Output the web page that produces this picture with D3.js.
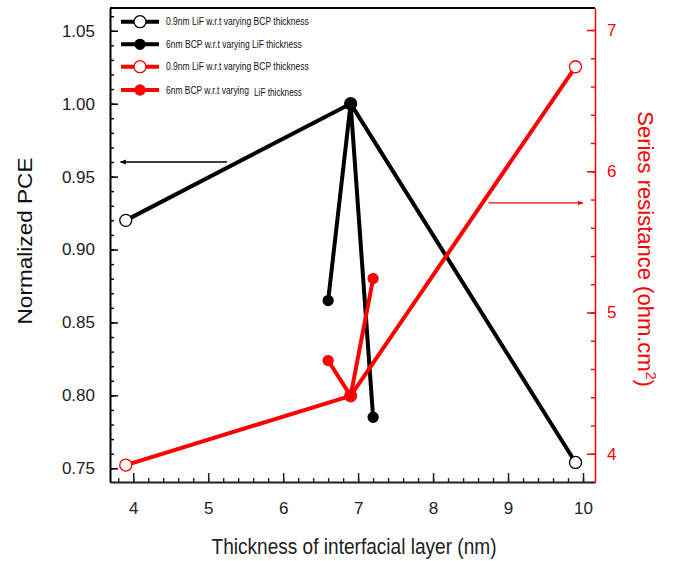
<!DOCTYPE html>
<html>
<head>
<meta charset="utf-8">
<script src="https://cdn.jsdelivr.net/npm/d3@7"></script>
<style>
  body { margin: 0; background: #fff; }
  text { font-family: "Liberation Sans", Arial, sans-serif; }
</style>
</head>
<body>
<script>
// data
const xBCP = [3.9, 6.9, 9.9]      // 0.9nm LiF, varying BCP thickness
const pceBCP = [0.92, 1.00, 0.754]
const rsBCP = [3.92, 4.41, 6.74]

const xLiF = [6.6, 6.9, 7.2]      // 6nm BCP, varying LiF thickness
const pceLiF = [0.865, 1.00, 0.785]
const rsLiF = [4.66, 4.41, 5.24]

const xTicks = [4, 5, 6, 7, 8, 9, 10]
const pceTicks = [0.75, 0.80, 0.85, 0.90, 0.95, 1.00, 1.05]
const rsTicks = [4, 5, 6, 7]

const legendLabels = [
    '0.9nm LiF w.r.t varying BCP thickness',
    '6nm BCP w.r.t varying LiF thickness',
    '0.9nm LiF w.r.t varying BCP thickness',
    '6nm BCP w.r.t varying LiF thickness'
]

const w = 673
const h = 561
const plotLeft = 110, plotRight = 595, plotTop = 8, plotBottom = 482

const svg = d3.select('body').append('svg')
    .attr('width', w)
    .attr('height', h)

const x = d3.scaleLinear().domain([3.69, 10.16]).range([plotLeft, plotRight])
const yL = d3.scaleLinear().domain([0.7406, 1.0656]).range([plotBottom, plotTop])
const yR = d3.scaleLinear().domain([3.80, 7.156]).range([plotBottom, plotTop])

const red = '#ff0000'

// frame top line
svg.append('line')
    .attr('x1', plotLeft).attr('x2', plotRight)
    .attr('y1', plotTop).attr('y2', plotTop)
    .attr('stroke', '#000').attr('stroke-width', 2)

// minor ticks
const minor = (lo, hi, step) => d3.range(Math.round(lo / step), Math.round(hi / step) + 1).map(i => +(i * step).toFixed(4))

svg.append('g')
    .attr('transform', `translate(0,${plotBottom})`)
    .call(d3.axisBottom(x).tickValues(minor(3.8, 10.0, 0.2)).tickSize(-4).tickFormat('').tickSizeOuter(0))
    .call(g => g.select('.domain').remove())
    .selectAll('line').attr('stroke', '#222').attr('stroke-width', 1.4)

svg.append('g')
    .attr('transform', `translate(${plotLeft},0)`)
    .call(d3.axisLeft(yL).tickValues(minor(0.75, 1.06, 0.01)).tickSize(-4).tickFormat('').tickSizeOuter(0))
    .call(g => g.select('.domain').remove())
    .selectAll('line').attr('stroke', '#000').attr('stroke-width', 1.4)

svg.append('g')
    .attr('transform', `translate(${plotRight},0)`)
    .call(d3.axisRight(yR).tickValues(minor(3.8, 7.1, 0.2)).tickSize(-4).tickFormat('').tickSizeOuter(0))
    .call(g => g.select('.domain').remove())
    .selectAll('line').attr('stroke', red).attr('stroke-width', 1.4)

// main axes
const xAxis = svg.append('g')
    .attr('transform', `translate(0,${plotBottom})`)
    .call(d3.axisBottom(x).tickValues(xTicks).tickSize(-9).tickSizeOuter(0).tickPadding(20).tickFormat(d3.format('d')))
xAxis.select('.domain').attr('stroke', '#222').attr('stroke-width', 2)
xAxis.selectAll('line').attr('stroke', '#222').attr('stroke-width', 1.5)
xAxis.selectAll('text').attr('font-size', 17).attr('fill', '#222')
    .style('font-family', '"Liberation Sans", Arial, sans-serif')

const yAxisL = svg.append('g')
    .attr('transform', `translate(${plotLeft},0)`)
    .call(d3.axisLeft(yL).tickValues(pceTicks).tickSize(-8).tickSizeOuter(0).tickPadding(15).tickFormat(d3.format('.2f')))
yAxisL.select('.domain').attr('stroke', '#000').attr('stroke-width', 2)
yAxisL.selectAll('line').attr('stroke', '#000').attr('stroke-width', 1.5)
yAxisL.selectAll('text').attr('font-size', 17).attr('fill', '#222')
    .style('font-family', '"Liberation Sans", Arial, sans-serif')

const yAxisR = svg.append('g')
    .attr('transform', `translate(${plotRight},0)`)
    .call(d3.axisRight(yR).tickValues(rsTicks).tickSize(-8).tickSizeOuter(0).tickPadding(12).tickFormat(d3.format('d')))
yAxisR.select('.domain').attr('stroke', red).attr('stroke-width', 1.5)
yAxisR.selectAll('line').attr('stroke', red).attr('stroke-width', 1.5)
yAxisR.selectAll('text').attr('font-size', 17).attr('fill', red)
    .style('font-family', '"Liberation Sans", Arial, sans-serif')

// axis titles
svg.append('text')
    .attr('x', 354).attr('y', 554)
    .attr('text-anchor', 'middle')
    .attr('font-size', 22)
    .attr('fill', '#222')
    .attr('textLength', 285).attr('lengthAdjust', 'spacingAndGlyphs')
    .text('Thickness of interfacial layer (nm)')

svg.append('text')
    .attr('transform', 'translate(32,241) rotate(-90)')
    .attr('text-anchor', 'middle')
    .attr('font-size', 21)
    .attr('fill', '#111')
    .attr('textLength', 167).attr('lengthAdjust', 'spacingAndGlyphs')
    .text('Normalized PCE')

const rTitle = svg.append('text')
    .attr('transform', 'translate(638,249) rotate(90)')
    .attr('text-anchor', 'middle')
    .attr('font-size', 22)
    .attr('fill', red)
rTitle.append('tspan').text('Series resistance (ohm.cm')
rTitle.append('tspan').attr('dy', -8).attr('font-size', 14).text('2')
rTitle.append('tspan').attr('dy', 8).text(')')

// arrows
const defs = svg.append('defs')
const marker = (id, color) => defs.append('marker')
    .attr('id', id)
    .attr('viewBox', '0 0 10 10')
    .attr('refX', 9).attr('refY', 5)
    .attr('markerWidth', 6).attr('markerHeight', 6)
    .attr('markerUnits', 'userSpaceOnUse')
    .attr('orient', 'auto')
    .append('path').attr('d', 'M0,1 L10,5 L0,9 Z').attr('fill', color)
marker('arrowBlack', '#000')
marker('arrowRed', red)

svg.append('line')
    .attr('x1', x(5.25)).attr('x2', x(3.83))
    .attr('y1', yL(0.960)).attr('y2', yL(0.960))
    .attr('stroke', '#000').attr('stroke-width', 1.3)
    .attr('marker-end', 'url(#arrowBlack)')

svg.append('line')
    .attr('x1', x(8.74)).attr('x2', x(10.0))
    .attr('y1', yR(5.776)).attr('y2', yR(5.776))
    .attr('stroke', red).attr('stroke-width', 1.3)
    .attr('marker-end', 'url(#arrowRed)')

// series
const drawSeries = (xs, ys, yScale, color, open) => {
    const pts = xs.map((d, i) => [d, ys[i]])
    const line = d3.line().x(d => x(d[0])).y(d => yScale(d[1]))
    svg.append('path')
        .datum(pts)
        .attr('d', line)
        .attr('fill', 'none')
        .attr('stroke', color)
        .attr('stroke-width', 4)
        .attr('stroke-linejoin', 'round')
    svg.append('g').selectAll('circle')
        .data(pts)
        .enter()
        .append('circle')
        .attr('cx', d => x(d[0]))
        .attr('cy', d => yScale(d[1]))
        .attr('r', open ? 6 : 5)
        .attr('fill', open ? '#fff' : color)
        .attr('stroke', color)
        .attr('stroke-width', 1.3)
}

drawSeries(xBCP, pceBCP, yL, '#000', true)
drawSeries(xLiF, pceLiF, yL, '#000', false)
drawSeries(xBCP, rsBCP, yR, red, true)
drawSeries(xLiF, rsLiF, yR, red, false)

// legend
const legendY = [21.7, 44.3, 66.7, 90]
const legendColors = ['#000', '#000', red, red]
const legendOpen = [true, false, true, false]
const legendWidths = [143, 136, 143, 136]

// condensed text: squeeze horizontally to the width seen in the figure
const squeezedText = (parent, tx, ty, str, width) => {
    const g = parent.append('g')
    const t = g.append('text')
        .attr('font-size', 11).attr('fill', '#111')
        .text(str)
    const k = width / t.node().getComputedTextLength()
    g.attr('transform', `translate(${tx},${ty}) scale(${k},1)`)
}

const legend = svg.append('g').attr('class', 'legend')
legendLabels.forEach((label, i) => {
    const g = legend.append('g').attr('transform', `translate(0,${legendY[i]})`)
    g.append('line')
        .attr('x1', 121).attr('x2', 159)
        .attr('stroke', legendColors[i]).attr('stroke-width', 4)
    g.append('circle')
        .attr('cx', 140).attr('r', legendOpen[i] ? 6 : 5)
        .attr('fill', legendOpen[i] ? '#fff' : legendColors[i])
        .attr('stroke', legendColors[i]).attr('stroke-width', 1.3)
    if (i === 3) {
        // the figure sets "LiF thickness" slightly lower, as a separate run
        squeezedText(g, 166, 3.5, '6nm BCP w.r.t varying', 83)
        squeezedText(g, 254, 5.5, 'LiF thickness', 48)
    } else {
        squeezedText(g, 166, 3.5, label, legendWidths[i])
    }
})
</script>
</body>
</html>
